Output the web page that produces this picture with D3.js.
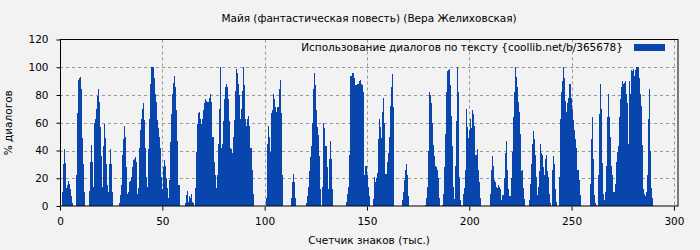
<!DOCTYPE html>
<html>
<head>
<meta charset="utf-8">
<script src="https://cdn.jsdelivr.net/npm/d3@7"></script>
<style>
    body { margin: 0; background: #f2f2f2; }
    svg { display: block; }
    text { font-family: "DejaVu Sans", sans-serif; fill: #000; }
</style>
</head>
<body>
<div id="vis"></div>
<script>
const title = "Майя (фантастическая повесть) (Вера Желиховская)";
const xTitle = "Счетчик знаков (тыс.)";
const yTitle = "% диалогов";
const legendLabel = "Использование диалогов по тексту {coollib.net/b/365678}";

const xTicks = [0, 50, 100, 150, 200, 250, 300];
const yTicks = [0, 20, 40, 60, 80, 100, 120];

// thousand characters: first sample and spacing between samples
const sampleStart = 1.0;
const sampleStep = 0.489;

// share of dialogue (%) per sample
const dialogShare = [
    10,30,41,31,13,15,18,16,12,7,2, 0,0,0,
    22,67,91,92,93,84,49,30,10, 0,0,0,0,
    11,32,44,32,14,60,63,70,79,84,75,57,36,14,43,59,49,30,15,10,30,41,30,10, 0,0,0,0,0,0,
    2,8,15,37,48,58,50,28,9,10,17,18,21,28,33,34,35,32,9,13,42,55,63,70,74,62,42,21,14,41,
    63,88,100,100,100,92,81,75,62,56,50,42,21,12,28,33,29,20,13,6,19,46,66,81,89,94,86,69,47,15,15,
    0,0,0,0,0,
    2,8,11,3,7,6,9,3,2, 0,
    13,39,59,67,68,63,59,63,69,74,77,76,75,75,78,81,75,50,
    50,32,22,13,22,45,70,100,42,45,61,77,86,88,86,77,61,42,41,38,50,62,83,99,96,88,80,63,70,83,
    100,87,63,58,63,65,58,42,42,26,9,
    0,0,0,0,0,0,0,0,0,0,0,0,
    6,45,58,50,39,67,69,81,77,71,68,71,71,84,91,67,22, 0,0,0,0,0,0,0,0,
    6,17,23,17,6, 0,0,0,0,0,0,0,0,0,0,
    2,7,14,25,35,43,60,84,96,87,69,57,51,36,12, 0,
    14,60,56,43,43,28,12,34,47,34,12, 0,0,0,0,0,0,0,0,0,0,0,0,0,
    3,9,14,37,94,94,96,96,92,87,87,88,88,90,91,88,87,82,22,29,29,22,14,7, 0,0,0,
    5,21,17,20,24,48,63,57,49,68,78,60,23,23,32,38,50,72,86,95,71, 0,0,0,0,0,0,0,0,
    4,10,19,26,30,22,7, 0,0,0,0,0,0,0,0,0,0,0,0,0,0,0,0,
    1,6,14,40,82,80,74,60,44,36,29,28,26,20,6, 0,0,
    1,9,28,52,82,97,98,99,87,65,43,14,5,29,61,100,82,21,4,1,0,
    9,13,26,70,57,49,55,63,56,69,66,58,37,37,41,26,17,6, 0,0,0,0,0,0,0,0,0,
    9,26,36,29,19,17,14,13,15,14,12,4,8,8,20,38,47,26,12,7,7,20,39,64,82,100,93,86,75,68,52,25,26,13,5,
    0,0,0,0,
    4,16,30,45,54,48,37,21,8,14,25,45,38,37,28,22,34,37,25,21,9,2, 0,
    26,36,30,12,3, 0,0,
    21,63,82,90,100,92,76,68,74,78,88,88,78,70,62,55,48,42,26,26,19,8, 0,0,0,0,0,0,0,0,0,
    16,48,64,34,8,2,1, 0,
    22,66,88,70,31,9,4,10,29,64,81,64,50,29,22,10,10,16,32,39,43,64,77,86,90,88,89,90,81,74,
    45,90,81,98,97,99,94,98,100,100,100,92,81,72,44,12,9,7,10,22,63,84,40,13,6
];

const barColor = "#0846ad";
const gridColor = "#999";
const fontSize = "10.5px";

const width = 700;
const height = 250;
const margin = { left: 60, top: 39.5, right: 22, bottom: 44 };

const svg = d3.select("#vis")
    .append("svg")
    .attr("width", width)
    .attr("height", height);

const data = dialogShare.map((v, i) => ({ pos: sampleStart + i * sampleStep, value: v }));

const xScale = d3.scaleLinear()
    .domain([0, 302])
    .range([margin.left, width - margin.right]);

const yScale = d3.scaleLinear()
    .domain([0, 120])
    .range([height - margin.bottom, margin.top]);

// grid
svg.append("g")
    .selectAll("line")
    .data(yTicks.filter(d => d > 0 && d < 120))
    .join("line")
        .attr("x1", margin.left)
        .attr("x2", width - margin.right)
        .attr("y1", d => Math.round(yScale(d)) + 0.5)
        .attr("y2", d => Math.round(yScale(d)) + 0.5)
        .attr("stroke", gridColor)
        .attr("stroke-dasharray", "3,3");

svg.append("g")
    .selectAll("line")
    .data(xTicks.filter(d => d > 0))
    .join("line")
        .attr("x1", d => Math.round(xScale(d)) + 0.5)
        .attr("x2", d => Math.round(xScale(d)) + 0.5)
        .attr("y1", margin.top)
        .attr("y2", height - margin.bottom)
        .attr("stroke", gridColor)
        .attr("stroke-dasharray", "3,3");

// bars
const barWidth = xScale(sampleStep) - xScale(0);
svg.append("g")
    .attr("shape-rendering", "crispEdges")
    .selectAll("rect")
    .data(data.filter(d => d.value > 0))
    .join("rect")
        .attr("x", d => xScale(d.pos))
        .attr("y", d => yScale(d.value))
        .attr("width", barWidth + 0.05)
        .attr("height", d => yScale(0) - yScale(d.value))
        .attr("fill", barColor);

// frame
svg.append("rect")
    .attr("x", margin.left + 0.5)
    .attr("y", margin.top)
    .attr("width", width - margin.right - margin.left - 0.5)
    .attr("height", height - margin.bottom - margin.top)
    .attr("fill", "none")
    .attr("stroke", "#000")
    .attr("stroke-width", 1);

// axes
svg.append("g")
    .attr("transform", `translate(0,${Math.round(yScale(0)) + 0.5})`)
    .call(d3.axisBottom(xScale).tickValues(xTicks).tickSize(4).tickPadding(7))
    .call(g => g.select(".domain").remove())
    .call(g => g.selectAll("text").style("font-size", fontSize).style("font-family", "DejaVu Sans"));

svg.append("g")
    .attr("transform", `translate(${margin.left + 0.5},0)`)
    .call(d3.axisLeft(yScale).tickValues(yTicks).tickSize(4).tickPadding(8))
    .call(g => g.select(".domain").remove())
    .call(g => g.selectAll("text").style("font-size", fontSize).style("font-family", "DejaVu Sans"));

// titles
svg.append("text")
    .attr("x", (margin.left + width - margin.right) / 2)
    .attr("y", 22)
    .attr("text-anchor", "middle")
    .style("font-size", fontSize)
    .text(title);

svg.append("text")
    .attr("x", (margin.left + width - margin.right) / 2)
    .attr("y", 244)
    .attr("text-anchor", "middle")
    .style("font-size", fontSize)
    .text(xTitle);

svg.append("text")
    .attr("transform", `translate(12,${(margin.top + height - margin.bottom) / 2}) rotate(-90)`)
    .attr("text-anchor", "middle")
    .style("font-size", fontSize)
    .text(yTitle);

// legend
svg.append("text")
    .attr("x", 623)
    .attr("y", 51)
    .attr("text-anchor", "end")
    .style("font-size", fontSize)
    .text(legendLabel);

svg.append("rect")
    .attr("x", 634)
    .attr("y", 44)
    .attr("width", 31)
    .attr("height", 7)
    .attr("fill", barColor);
</script>
</body>
</html>
